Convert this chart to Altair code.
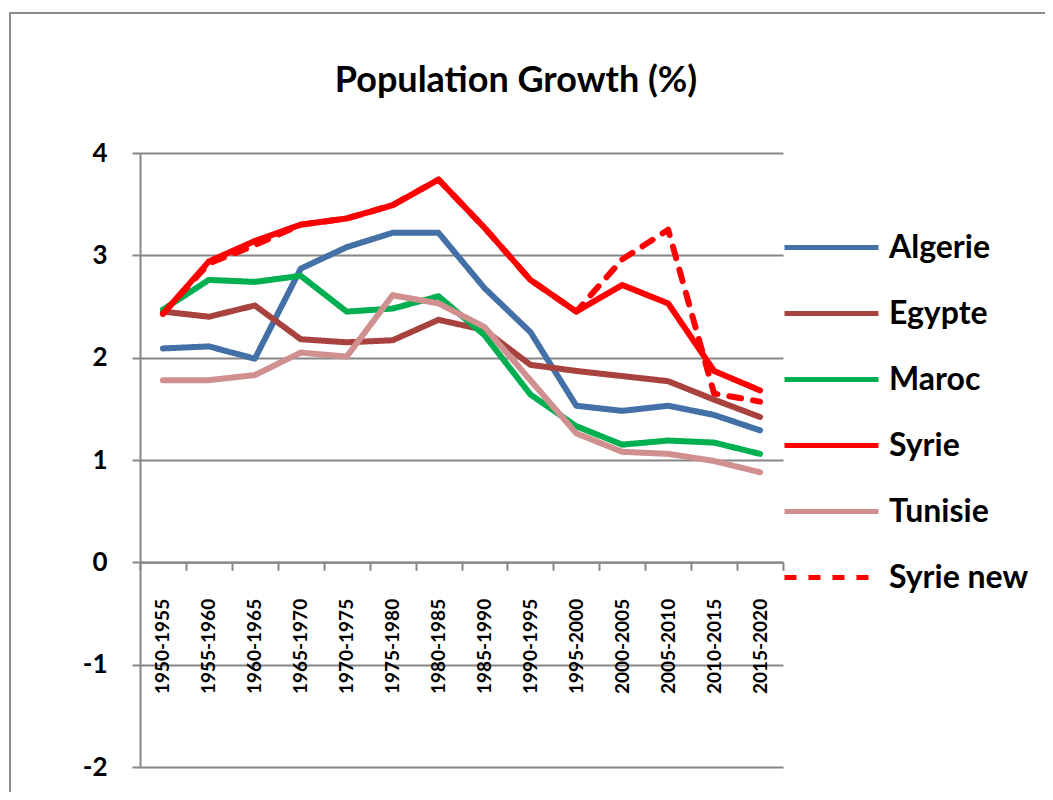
import altair as alt
import pandas as pd

periods = ["1950-1955", "1955-1960", "1960-1965", "1965-1970", "1970-1975",
           "1975-1980", "1980-1985", "1985-1990", "1990-1995", "1995-2000",
           "2000-2005", "2005-2010", "2010-2015", "2015-2020"]

algerie = [2.09, 2.11, 1.99, 2.87, 3.08, 3.22, 3.22, 2.68, 2.25, 1.53, 1.48, 1.53, 1.44, 1.29]
egypte = [2.45, 2.40, 2.51, 2.18, 2.15, 2.17, 2.37, 2.27, 1.93, 1.87, 1.82, 1.77, 1.59, 1.42]
maroc = [2.47, 2.76, 2.74, 2.80, 2.45, 2.48, 2.60, 2.22, 1.64, 1.33, 1.15, 1.19, 1.17, 1.06]
syrie = [2.43, 2.94, 3.14, 3.30, 3.36, 3.49, 3.74, 3.27, 2.76, 2.45, 2.71, 2.53, 1.87, 1.68]
tunisie = [1.78, 1.78, 1.83, 2.05, 2.01, 2.61, 2.53, 2.30, 1.78, 1.26, 1.08, 1.06, 0.99, 0.88]
syrie_new = [2.43, 2.92, 3.10, 3.30, 3.36, 3.49, 3.74, 3.27, 2.76, 2.45, 2.96, 3.25, 1.65, 1.57]

series_names = ["Algerie", "Egypte", "Maroc", "Syrie", "Tunisie", "Syrie new"]
series_values = [algerie, egypte, maroc, syrie, tunisie, syrie_new]
series_colors = ["#4470A8", "#A8423F", "#00B050", "#FF0000", "#D09090", "#FF0000"]
series_dashes = [[1, 0], [1, 0], [1, 0], [1, 0], [1, 0], [12, 12]]

title_text = "Population Growth (%)"

rows = []
for name, vals in zip(series_names, series_values):
    for p, v in zip(periods, vals):
        rows.append({"period": p, "value": v, "series": name})
df = pd.DataFrame(rows)

W, H = 643, 614
GRID = "#868686"

legend = alt.Legend(
    title=None, orient="none", legendX=642, legendY=45,
    symbolType="stroke", symbolSize=8836, symbolStrokeWidth=5,
    labelFont="Lato", labelFontWeight="bold", labelFontSize=32, labelColor="black",
    labelOffset=8, rowPadding=-31, labelLimit=300, padding=0,
)

lines = alt.Chart(df).mark_line(strokeWidth=6, strokeCap="round", strokeJoin="round").encode(
    x=alt.X("period:N", sort=periods, bandPosition=0.5,
            scale=alt.Scale(type="band", domain=periods, paddingInner=0, paddingOuter=0),
            axis=alt.Axis(title=None, orient="bottom", offset=-H * 2 / 6,
                          domainColor=GRID, domainWidth=2,
                          ticks=True, tickBand="extent", tickColor=GRID, tickWidth=2, tickSize=8,
                          labelAngle=-90, labelFont="Lato", labelFontWeight="bold",
                          labelFontSize=19, labelColor="black", labelPadding=28,
                          grid=False)),
    y=alt.Y("value:Q",
            scale=alt.Scale(domain=[-2, 4], nice=False, zero=False),
            axis=alt.Axis(title=None, values=[-2, -1, 0, 1, 2, 3, 4],
                          labelExpr="datum.value + ''",
                          domainColor=GRID, domainWidth=2,
                          tickColor=GRID, tickWidth=2, tickSize=8,
                          gridColor=GRID, gridWidth=2,
                          labelFont="Lato", labelFontWeight="bold", labelFontSize=26,
                          labelColor="black", labelPadding=25)),
    color=alt.Color("series:N", scale=alt.Scale(domain=series_names, range=series_colors),
                    legend=legend, sort=series_names),
    strokeDash=alt.StrokeDash("series:N", scale=alt.Scale(domain=series_names, range=series_dashes),
                              legend=legend, sort=series_names),
)

border = alt.Chart(alt.Data(values=[{}])).mark_rect(
    fillOpacity=0, stroke="#8c8c8c", strokeWidth=2
).encode(
    x=alt.value(-130), y=alt.value(-140), x2=alt.value(930), y2=alt.value(670)
)

title = alt.Chart(alt.Data(values=[{"t": title_text}])).mark_text(
    font="Lato", fontSize=36, fontWeight="bold", color="black",
    align="center", baseline="alphabetic"
).encode(
    text="t:N", x=alt.value(376), y=alt.value(-61)
)

chart = alt.layer(border, lines, title).properties(
    width=W, height=H,
    autosize=alt.AutoSizeParams(type="none"),
    padding={"left": 132, "top": 145, "right": 262, "bottom": 25},
).configure_view(stroke=None)

chart.save("out.html", embed_options={"renderer": "svg", "actions": False})
